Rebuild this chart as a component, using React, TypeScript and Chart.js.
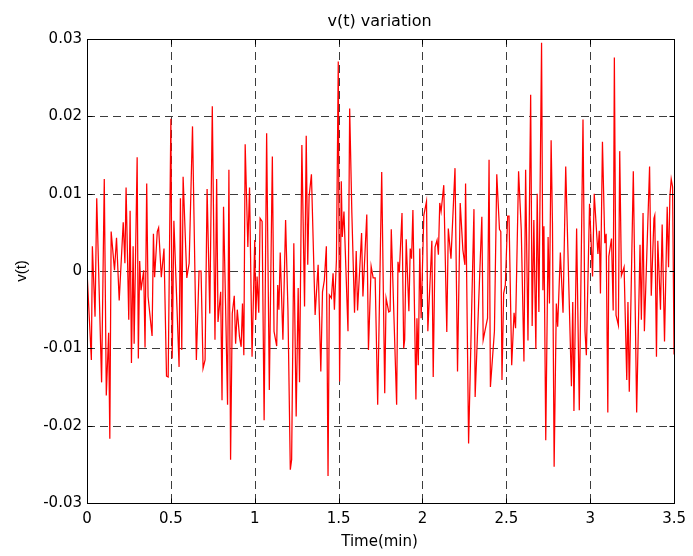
import { useEffect, useRef } from "react";
import { Chart, registerables } from "chart.js";

Chart.register(...registerables);

// sample times (min)
const time = [
  0.000, 0.026, 0.032, 0.048, 0.058, 0.087, 0.103, 0.115, 0.129, 0.136, 0.144, 0.164, 0.176, 0.192, 0.216, 0.226, 0.233, 0.249, 0.257, 0.265, 0.275, 0.281, 0.299, 0.306, 0.314, 0.322, 0.338, 0.346, 0.356, 0.364, 0.388, 0.396, 0.403, 0.419, 0.427, 0.443, 0.459, 0.474, 0.484, 0.500, 0.508, 0.518, 0.549, 0.557, 0.565, 0.573,
  0.595, 0.609, 0.629, 0.652, 0.668, 0.680, 0.692, 0.704, 0.716, 0.732, 0.747, 0.763, 0.773, 0.781, 0.797, 0.805, 0.814, 0.826, 0.838, 0.846, 0.856, 0.866, 0.878, 0.886, 0.896, 0.909, 0.919, 0.927, 0.935, 0.943, 0.959, 0.969, 0.984, 1.000, 1.006, 1.014, 1.024, 1.032, 1.044, 1.056, 1.071, 1.087, 1.105, 1.115, 1.131, 1.137, 1.144, 1.152,
  1.168, 1.184, 1.198, 1.212, 1.220, 1.233, 1.247, 1.259, 1.267, 1.281, 1.297, 1.307, 1.316, 1.324, 1.338, 1.360, 1.378, 1.394, 1.404, 1.415, 1.427, 1.437, 1.445, 1.457, 1.467, 1.475, 1.487, 1.498, 1.506, 1.516, 1.522, 1.532, 1.556, 1.566, 1.579, 1.595, 1.605, 1.613, 1.637, 1.645, 1.668, 1.678, 1.694, 1.706, 1.718, 1.733, 1.757,
  1.775, 1.783, 1.799, 1.807, 1.814, 1.846, 1.854, 1.862, 1.878, 1.888, 1.894, 1.903, 1.919, 1.927, 1.935, 1.943, 1.961, 1.967, 1.975, 1.984, 1.992, 2.008, 2.024, 2.032, 2.056, 2.064, 2.075, 2.087, 2.095, 2.103, 2.111, 2.127, 2.145, 2.154, 2.170, 2.194, 2.209, 2.225, 2.241, 2.253, 2.257, 2.275, 2.307, 2.314,
  2.354, 2.362, 2.372, 2.388, 2.397, 2.405, 2.429, 2.443, 2.459, 2.467, 2.474, 2.484, 2.494, 2.508, 2.516, 2.532, 2.546, 2.555, 2.573, 2.589, 2.605, 2.615, 2.629, 2.645, 2.654, 2.664, 2.676, 2.684, 2.694, 2.710, 2.718, 2.724, 2.735, 2.749, 2.757, 2.767, 2.775, 2.785, 2.798, 2.806, 2.822, 2.838, 2.854, 2.888, 2.896, 2.903, 2.919, 2.935,
  2.957, 2.969, 2.977, 2.996, 3.014, 3.024, 3.046, 3.054, 3.061, 3.073, 3.087, 3.095, 3.105, 3.111, 3.127, 3.137, 3.144, 3.154, 3.168, 3.176, 3.186, 3.202, 3.218, 3.225, 3.233, 3.257, 3.277, 3.297, 3.305, 3.315, 3.323, 3.354, 3.364, 3.380, 3.385, 3.395, 3.403, 3.419, 3.429, 3.443, 3.459, 3.467, 3.475, 3.483, 3.491, 3.500,
];

// v(t) values
const vt = [
  0, -0.0115, 0.0032, -0.0059, 0.0094, -0.0144, 0.0119, -0.0161, -0.0080, -0.0217, 0.0051, 0.0001, 0.0043, -0.0038, 0.0063, 0.0010, 0.0108, -0.0063, 0.0078, -0.0119, 0.0032, -0.0094, 0.0147, -0.0113, 0.0013, -0.0025, 0.0001, -0.0099, 0.0113, -0.0033, -0.0084, 0.0048, -0.0008, 0.0051, 0.0056, -0.0008, 0.0029, -0.0136, -0.0137, 0.0197, -0.0113, 0.0065, -0.0124, 0.0094, -0.0102, 0.0122,
  -0.0009, 0.0010, 0.0187, -0.0115, 0.0000, 0.0000, -0.0126, -0.0115, 0.0106, -0.0055, 0.0213, -0.0089, 0.0119, -0.0066, -0.0027, -0.0167, 0.0083, -0.0042, -0.0173, 0.0131, -0.0244, -0.0055, -0.0032, -0.0094, -0.0050, -0.0085, -0.0098, -0.0042, -0.0109, 0.0164, 0.0031, 0.0108, -0.0111, 0.0040, -0.0063, -0.0007, -0.0054, 0.0068, 0.0064, -0.0193, 0.0178, -0.0154, 0.0148, -0.0078, -0.0097, -0.0018, -0.0050, 0.0024,
  -0.0089, 0.0066, -0.0050, -0.0257, -0.0244, 0.0036, -0.0188, -0.0022, -0.0144, 0.0163, -0.0046, 0.0175, 0.0008, 0.0096, 0.0125, -0.0057, 0.0008, -0.0130, -0.0027, -0.0012, 0.0032, -0.0265, -0.0031, -0.0035, -0.0003, -0.0050, 0.0014, 0.0271, -0.0143, 0.0116, 0.0044, 0.0077, -0.0078, 0.0210, 0.0075, -0.0054, 0.0026, -0.0051, 0.0049, -0.0033, 0.0073, -0.0102, 0.0006, -0.0009, -0.0009, -0.0173, 0.0128,
  -0.0158, -0.0035, -0.0053, -0.0052, 0.0054, -0.0173, 0.0012, -0.0002, 0.0075, -0.0100, -0.0089, 0.0041, -0.0052, 0.0029, 0.0016, 0.0079, -0.0166, -0.0061, -0.0122, 0.0029, -0.0061, 0.0072, 0.0090, -0.0078, 0.0039, -0.0137, 0.0031, 0.0040, 0.0021, 0.0088, 0.0077, 0.0111, -0.0079, 0.0055, 0.0016, 0.0133, -0.0130, 0.0088, 0.0027, 0.0008, 0.0113, -0.0223, 0.0080, -0.0163,
  0.0070, -0.0089, -0.0078, -0.0061, 0.0144, -0.0150, -0.0078, 0.0125, 0.0054, 0.0051, -0.0141, -0.0029, -0.0018, 0.0071, 0.0071, -0.0122, -0.0054, -0.0074, 0.0129, 0.0053, -0.0117, 0.0131, -0.0090, 0.0228, -0.0071, 0.0066, -0.0101, 0.0100, -0.0053, 0.0295, -0.0025, 0.0058, -0.0219, 0.0044, -0.0042, 0.0169, 0.0062, -0.0253, -0.0042, -0.0072, 0.0024, -0.0054, 0.0135, -0.0149, -0.0040, -0.0181, 0.0055, -0.0180,
  0.0196, -0.0078, -0.0109, 0.0087, -0.0007, 0.0100, 0.0022, 0.0052, -0.0029, 0.0167, 0.0036, 0.0048, -0.0183, 0.0019, 0.0042, -0.0051, 0.0276, -0.0057, -0.0070, 0.0155, -0.0006, 0.0005, -0.0141, -0.0040, -0.0156, 0.0129, -0.0183, 0.0034, -0.0063, 0.0075, -0.0078, 0.0135, -0.0032, 0.0068, 0.0072, -0.0111, 0.0039, -0.0050, 0.0060, -0.0091, 0.0083, 0.0005, 0.0096, 0.0119, 0.0109, -0.0108,
];

const xTickValues = [0, 0.5, 1, 1.5, 2, 2.5, 3, 3.5];
const xTickLabels = ["0", "0.5", "1", "1.5", "2", "2.5", "3", "3.5"];
const yTickValues = [-0.03, -0.02, -0.01, 0, 0.01, 0.02, 0.03];
const yTickLabels = ["-0.03", "-0.02", "-0.01", "0", "0.01", "0.02", "0.03"];

const titleText = "v(t) variation";
const xAxisTitle = "Time(min)";
const yAxisTitle = "v(t)";

const FONT = "'DejaVu Sans', sans-serif";

const al = (p: number) => Math.round(p) + 0.5;

const matlabPlugin = {
  id: "matlabFrame",
  beforeDatasetsDraw(chart: any) {
    const { ctx, chartArea: a, scales } = chart;
    const xs = scales.x, ys = scales.y;
    ctx.save();
    ctx.strokeStyle = "#3c3c3c";
    ctx.lineWidth = 1;
    ctx.setLineDash([8, 5]);
    xTickValues.forEach((v) => {
      const px = al(xs.getPixelForValue(v));
      ctx.beginPath();
      ctx.moveTo(px, a.top);
      ctx.lineTo(px, a.bottom);
      ctx.stroke();
    });
    yTickValues.forEach((v) => {
      const py = al(ys.getPixelForValue(v));
      ctx.beginPath();
      ctx.moveTo(a.left, py);
      ctx.lineTo(a.right, py);
      ctx.stroke();
    });
    ctx.restore();
  },
  afterDatasetsDraw(chart: any) {
    const { ctx, chartArea: a, scales } = chart;
    const xs = scales.x, ys = scales.y;
    const L = al(a.left), R = al(a.right), T = al(a.top), B = al(a.bottom);
    ctx.save();
    ctx.setLineDash([]);
    ctx.strokeStyle = "#000";
    ctx.lineWidth = 1;
    ctx.strokeRect(L, T, R - L, B - T);
    const tl = 5;
    ctx.beginPath();
    xTickValues.forEach((v) => {
      const px = al(xs.getPixelForValue(v));
      ctx.moveTo(px, B);
      ctx.lineTo(px, B - tl);
      ctx.moveTo(px, T);
      ctx.lineTo(px, T + tl);
    });
    yTickValues.forEach((v) => {
      const py = al(ys.getPixelForValue(v));
      ctx.moveTo(L, py);
      ctx.lineTo(L + tl, py);
      ctx.moveTo(R, py);
      ctx.lineTo(R - tl, py);
    });
    ctx.stroke();

    const cx = (a.left + a.right) / 2 - 1;
    ctx.fillStyle = "#000";
    ctx.textAlign = "center";
    ctx.textBaseline = "alphabetic";
    ctx.font = `16px ${FONT}`;
    ctx.fillText(titleText, cx, 26);
    ctx.font = `15px ${FONT}`;
    ctx.fillText(xAxisTitle, cx, 546);
    ctx.save();
    ctx.translate(22, (a.top + a.bottom) / 2);
    ctx.rotate(-Math.PI / 2);
    ctx.textBaseline = "middle";
    ctx.font = `15px 'Liberation Sans', Arial, sans-serif`;
    ctx.fillText(yAxisTitle, 0, 0);
    ctx.restore();
    ctx.restore();
  },
};

export default function App() {
  const ref = useRef<HTMLCanvasElement | null>(null);

  useEffect(() => {
    if (!ref.current) return;
    const points = time.map((t, i) => ({ x: t, y: vt[i] }));
    const chart = new Chart(ref.current, {
      type: "line",
      data: {
        datasets: [
          {
            data: points,
            borderColor: "#ff0000",
            borderWidth: 1.25,
            pointRadius: 0,
            tension: 0,
            fill: false,
          },
        ],
      },
      options: {
        animation: false,
        responsive: false,
        devicePixelRatio: 1,
        events: [],
        layout: { padding: { top: 39, right: 15, left: 0, bottom: 0 } },
        plugins: {
          legend: { display: false },
          tooltip: { enabled: false },
          title: { display: false },
        },
        scales: {
          x: {
            type: "linear",
            min: 0,
            max: 3.5,
            grid: { display: false, drawTicks: false },
            border: { display: false },
            afterBuildTicks: (axis: any) => {
              axis.ticks = xTickValues.map((v) => ({ value: v }));
            },
            afterFit: (axis: any) => {
              axis.height = 53;
            },
            ticks: {
              autoSkip: false,
              maxRotation: 0,
              padding: 7,
              color: "#000",
              font: { family: FONT, size: 15 },
              callback: (_v: any, i: number) => xTickLabels[i],
            },
          },
          y: {
            type: "linear",
            min: -0.03,
            max: 0.03,
            grid: { display: false, drawTicks: false },
            border: { display: false },
            afterBuildTicks: (axis: any) => {
              axis.ticks = yTickValues.map((v) => ({ value: v }));
            },
            afterFit: (axis: any) => {
              axis.width = 87;
            },
            ticks: {
              autoSkip: false,
              padding: 5,
              color: "#000",
              font: { family: FONT, size: 15 },
              callback: (_v: any, i: number) => yTickLabels[i],
            },
          },
        },
      },
      plugins: [matlabPlugin],
    } as any);
    return () => chart.destroy();
  }, []);

  return (
    <div style={{ position: "fixed", left: 0, top: 0, width: 693, height: 556, background: "#fff" }}>
      <canvas ref={ref} width={693} height={556} style={{ width: 693, height: 556, display: "block" }} />
    </div>
  );
}
